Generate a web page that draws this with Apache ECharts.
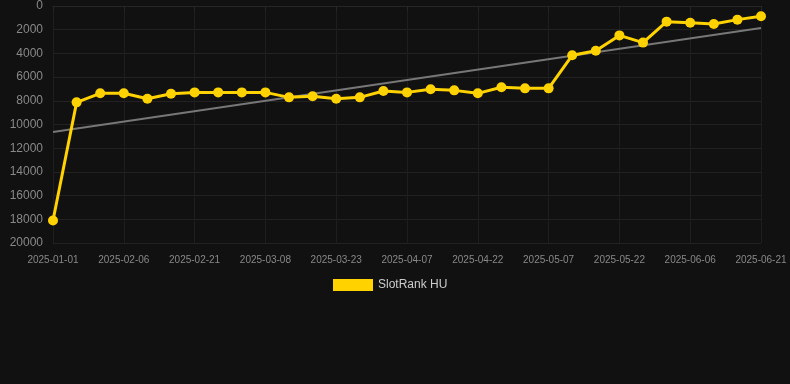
<!DOCTYPE html>
<html>
<head>
<meta charset="utf-8">
<script src="https://cdn.jsdelivr.net/npm/echarts@6/dist/echarts.min.js"></script>
<style>
  html, body { margin: 0; padding: 0; background: #111; }
  #chart { width: 790px; height: 384px; }
</style>
</head>
<body>
<div id="chart"></div>
<script>
const dates = [
    "2025-01-01", "2025-01-27", "2025-02-01", "2025-02-06", "2025-02-11", "2025-02-16",
    "2025-02-21", "2025-02-26", "2025-03-03", "2025-03-08", "2025-03-13", "2025-03-18",
    "2025-03-23", "2025-03-28", "2025-04-02", "2025-04-07", "2025-04-12", "2025-04-17",
    "2025-04-22", "2025-04-27", "2025-05-02", "2025-05-07", "2025-05-12", "2025-05-17",
    "2025-05-22", "2025-05-27", "2025-06-01", "2025-06-06", "2025-06-11", "2025-06-16",
    "2025-06-21"
];

const rankHU = [
    18100, 8130, 7370, 7370, 7820, 7400, 7290, 7290, 7290, 7290, 7710, 7620,
    7820, 7710, 7170, 7290, 7030, 7120, 7370, 6860, 6950, 6950, 4160, 3770,
    2480, 3090, 1320, 1410, 1520, 1150, 870
];

// trend line: only the two ends, joined straight
const trendEnds = { first: 10630, last: 1860 };
const trend = dates.map((d, i) =>
    i === 0 ? trendEnds.first : (i === dates.length - 1 ? trendEnds.last : null)
);

const chart = echarts.init(document.getElementById("chart"));

chart.setOption({
    backgroundColor: "#111",
    animation: false,

    grid: { left: 53, right: 29, top: 6, bottom: 141 },

    legend: {
        data: [{ name: "SlotRank HU", icon: "rect" }],
        left: 328,
        bottom: 88,
        itemWidth: 40,
        itemHeight: 12,
        textStyle: { color: "#ccc", fontSize: 12 }
    },

    xAxis: {
        type: "category",
        data: dates,
        boundaryGap: false,
        axisLine: { lineStyle: { color: "#262626" } },
        axisTick: { show: true, interval: 2, lineStyle: { color: "#262626" } },
        axisLabel: { interval: 2, color: "#888", fontSize: 10, margin: 12 },
        splitLine: { show: true, interval: 2, lineStyle: { color: "#1e1e1e" } }
    },

    yAxis: {
        type: "value",
        inverse: true,
        min: 0,
        max: 20000,
        interval: 2000,
        axisLine: { show: false },
        axisTick: { show: false },
        axisLabel: { color: "#888", fontSize: 12, margin: 10, formatter: v => String(v) },
        splitLine: { lineStyle: { color: "#222" } }
    },

    series: [
        {
            name: "SlotRank HU",
            type: "line",
            data: rankHU,
            symbol: "circle",
            symbolSize: 10,
            lineStyle: { color: "#FFD200", width: 3 },
            itemStyle: { color: "#FFD200" },
            z: 3
        },
        {
            name: "Trend",
            type: "line",
            data: trend,
            connectNulls: true,
            showSymbol: false,
            symbol: "none",
            lineStyle: { color: "#777", width: 2 },
            z: 2
        }
    ]
});
</script>
</body>
</html>
